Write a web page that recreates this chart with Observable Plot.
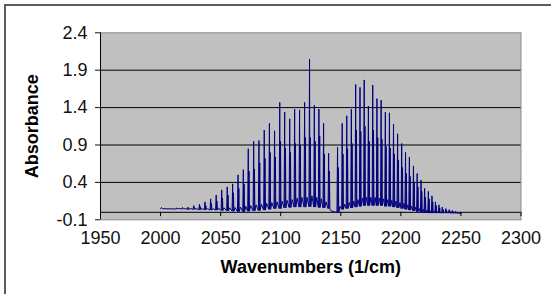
<!DOCTYPE html>
<html>
<head>
<meta charset="utf-8">
<script src="https://cdn.jsdelivr.net/npm/d3@7"></script>
<script src="https://cdn.jsdelivr.net/npm/@observablehq/plot@0.6"></script>
<style>
  html, body { margin: 0; padding: 0; overflow: hidden; background: #ffffff; width: 551px; height: 294px; }
  #border { position: absolute; left: 4px; top: 4px; width: 700px; height: 400px; border: 2px solid #5c5c5c; box-sizing: border-box; }
  #chart { position: absolute; left: 0; top: 0; }
</style>
</head>
<body>
<div id="border"></div>
<div id="chart"></div>
<script>
// Axis ticks
const xTicks = [1950, 2000, 2050, 2100, 2150, 2200, 2250, 2300];
const yTicks = [-0.1, 0.4, 0.9, 1.4, 1.9, 2.4];
const gridValues = [0.4, 0.9, 1.4, 1.9];

// Start / end of the recorded trace (wavenumber, absorbance)
const leadWn = [2000, 2000.8, 2001.5];
const leadAbs = [0.05, 0.065, 0.048];
const tailWn = [2250];
const tailAbs = [-0.015];

// Rotational lines: P(30)..P(1), then R(0)..R(30)
const lineWn = [2013.5, 2018.3, 2022.9, 2027.6, 2032.4, 2037.0, 2041.7, 2046.3, 2050.9, 2055.5,
  2060.0, 2064.5, 2068.9, 2073.0, 2077.5, 2081.9, 2086.3, 2090.6, 2094.9, 2099.2,
  2103.3, 2107.5, 2111.6, 2115.7, 2119.9, 2124.0, 2128.0, 2131.8, 2135.7, 2139.9,
  2147.3, 2151.2, 2155.0, 2158.8, 2162.4, 2166.0, 2169.5, 2173.0, 2176.6, 2180.1,
  2183.6, 2187.1, 2190.5, 2193.9, 2197.3, 2200.7, 2203.9, 2207.1, 2210.5, 2213.6,
  2216.8, 2219.8, 2222.9, 2225.9, 2228.8, 2231.7, 2234.5, 2237.4, 2240.2, 2242.9, 2245.6];
// main peak absorbance
const peakAbs = [0.06, 0.065, 0.07, 0.09, 0.11, 0.14, 0.18, 0.23, 0.30, 0.34,
  0.38, 0.50, 0.57, 0.85, 0.95, 0.96, 1.10, 1.19, 1.09, 1.47,
  1.34, 1.25, 1.38, 1.37, 1.47, 2.05, 1.43, 1.38, 1.19, 0.79,
  0.87, 1.19, 1.29, 1.38, 1.71, 1.67, 1.77, 1.42, 1.70, 1.52,
  1.50, 1.34, 1.33, 1.18, 1.05, 0.92, 0.80, 0.74, 0.62, 0.52,
  0.43, 0.32, 0.28, 0.22, 0.14, 0.10, 0.07, 0.05, 0.035, 0.025, 0.015];
// shorter companion peak beside each line
const shoulderAbs = [0.05, 0.05, 0.055, 0.065, 0.075, 0.09, 0.12, 0.15, 0.19, 0.23,
  0.26, 0.32, 0.38, 0.55, 0.58, 0.66, 0.72, 0.80, 0.74, 0.95,
  0.86, 0.80, 0.92, 0.90, 1.00, 1.00, 0.95, 1.02, 0.78, 0.55,
  0.60, 0.78, 0.85, 0.92, 1.10, 1.08, 1.15, 0.95, 1.10, 1.00,
  0.98, 0.88, 0.86, 0.78, 0.70, 0.60, 0.52, 0.48, 0.40, 0.34,
  0.28, 0.20, 0.18, 0.14, 0.09, 0.06, 0.04, 0.03, 0.02, 0.01, 0.005];
// valley at the foot of each line
const troughAbs = [0.045, 0.045, 0.04, 0.04, 0.035, 0.035, 0.03, 0.03, 0.025, 0.02,
  0.015, 0.01, 0.01, 0.015, 0.02, 0.025, 0.03, 0.04, 0.05, 0.05,
  0.06, 0.065, 0.07, 0.07, 0.07, 0.075, 0.07, 0.065, 0.06, 0.05,
  -0.005, 0.04, 0.05, 0.06, 0.07, 0.08, 0.09, 0.09, 0.09, 0.09,
  0.09, 0.08, 0.08, 0.07, 0.06, 0.05, 0.04, 0.03, 0.02, 0.01,
  0.0, -0.005, -0.01, -0.01, -0.01, -0.01, -0.01, -0.01, -0.01, -0.012, -0.012];
// low hump between lines
const humpAbs = [0.05, 0.05, 0.05, 0.05, 0.05, 0.05, 0.05, 0.055, 0.06, 0.06,
  0.065, 0.07, 0.08, 0.09, 0.10, 0.11, 0.12, 0.13, 0.14, 0.15,
  0.16, 0.17, 0.19, 0.20, 0.20, 0.22, 0.20, 0.18, 0.14, 0.02,
  0.08, 0.11, 0.13, 0.15, 0.17, 0.19, 0.20, 0.20, 0.20, 0.19,
  0.18, 0.17, 0.16, 0.15, 0.13, 0.12, 0.10, 0.08, 0.07, 0.05,
  0.04, 0.03, 0.02, 0.015, 0.01, 0.005, 0.0, 0.0, -0.005, -0.005, -0.01];

// Build the trace table from the arrays above
const trace = [];
leadWn.forEach((w, i) => trace.push({wn: w, abs: leadAbs[i]}));
lineWn.forEach((w, i) => {
  trace.push({wn: w - 0.5, abs: troughAbs[i]});
  trace.push({wn: w, abs: peakAbs[i]});
  trace.push({wn: w + 0.3, abs: troughAbs[i]});
  trace.push({wn: w + 0.65, abs: shoulderAbs[i]});
  trace.push({wn: w + 1.0, abs: troughAbs[i]});
  trace.push({wn: w + 2.0, abs: humpAbs[i]});
});
tailWn.forEach((w, i) => trace.push({wn: w, abs: tailAbs[i]}));

const font = "'Liberation Sans', Arial, sans-serif";

const chart = Plot.plot({
  width: 551,
  height: 294,
  marginLeft: 100,
  marginRight: 30.5,
  marginTop: 32.3,
  marginBottom: 74.7,
  style: {background: "transparent", fontFamily: font, fontSize: "18px", color: "#111"},
  x: {domain: [1950, 2300], ticks: xTicks, tickSize: 0, tickPadding: 11.5, tickFormat: d => String(d), label: null},
  y: {domain: [-0.1, 2.4], ticks: yTicks, tickSize: 5, tickPadding: 8, tickFormat: d => d.toFixed(1), label: null},
  marks: [
    Plot.frame({fill: "#c0c0c0", stroke: "#8a8a8a"}),
    Plot.ruleY(gridValues, {stroke: "#000", strokeWidth: 1}),
    Plot.ruleY([0], {stroke: "#000", strokeWidth: 1}),
    Plot.ruleX(xTicks, {y1: 0, y2: -0.058, stroke: "#000"}),
    Plot.line(trace, {x: "wn", y: "abs", stroke: "#000080", strokeWidth: 1}),
    Plot.ruleX([1950], {stroke: "#000", strokeWidth: 1}),
    Plot.text(["Absorbance"], {frameAnchor: "left", dx: -68.5, rotate: -90, textAnchor: "middle", lineAnchor: "middle", fontWeight: "bold", fontSize: 18, fill: "#000"}),
    Plot.text(["Wavenumbers (1/cm)"], {frameAnchor: "bottom", dy: 47.7, textAnchor: "middle", lineAnchor: "middle", fontWeight: "bold", fontSize: 18, fill: "#000"})
  ]
});
document.getElementById("chart").appendChild(chart);
</script>
</body>
</html>
